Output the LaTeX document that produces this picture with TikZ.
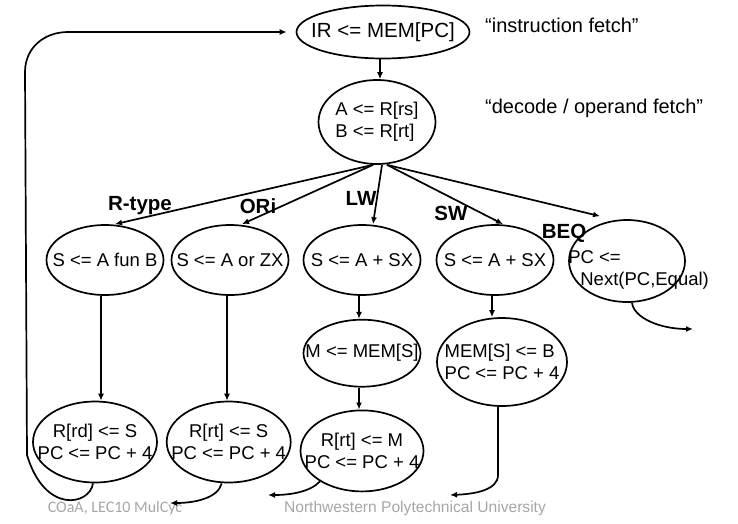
\documentclass[tikz,border=0pt]{standalone}
\usepackage{fontspec}
\setmainfont{Liberation Sans}
\newfontfamily\footfont{Carlito}
\usepackage{xcolor}
\definecolor{footgray}{HTML}{A6A6A6}
\usepackage{tikz}
\usetikzlibrary{arrows.meta,positioning,shapes.geometric}

\begin{document}
\begin{tikzpicture}[
  x=1pt,y=-1pt,
  st/.style={draw,ellipse,line width=1.7pt,inner sep=-40pt,align=center,
    minimum width=117pt,minimum height=70pt,font=\fontsize{18.5}{22}\selectfont},
  ar/.style={-{Latex[length=7pt,width=6pt]},line width=1.7pt},
  lab/.style={inner sep=0pt,font=\fontsize{20.5}{24}\selectfont\bfseries},
  note/.style={anchor=west,inner sep=0pt,font=\fontsize{20}{24}\selectfont},
  foot/.style={text=footgray,inner sep=0pt}
]
\useasboundingbox (0,0) rectangle (738,523);

\node[foot,font=\footfont\fontsize{16}{18}\selectfont] (fcourse) at (115,508) {COaA, LEC10 MulCyc};
\node[foot,font=\fontsize{15.6}{18}\selectfont] (fschool) at (415,508) {Northwestern Polytechnical University};

% fetch / decode
\node[st,minimum width=173pt,minimum height=53pt,font=\fontsize{20.5}{24}\selectfont] (ir) at (383,32) {IR <= MEM[PC]};
\node[st,minimum height=84pt,align=left] (dec) at (377,122) {A <= R[rs]\\B <= R[rt]};
\node[note] (nfetch) at (485,25) {“instruction fetch”};
\node[note] (ndecode) at (485,108) {“decode / operand fetch”};

% execute
\node[st] (rtype) at (105,260) {S <= A fun B};
\node[st] (ori) at (230,260) {S <= A or ZX};
\node[st] (lwa) at (362,260) {S <= A + SX};
\node[st] (swa) at (495,260) {S <= A + SX};
\node[st,minimum width=116pt,minimum height=82pt] (beq) at (627,261) {};
\node[anchor=west,inner sep=0pt,align=left,font=\fontsize{18.5}{22}\selectfont] (beqtxt)
  at ([yshift=-9pt]beq.west) {PC <=\\\hspace*{12pt}Next(PC,Equal)};

\node[lab] (lrt) at (140,206) {R-type};
\node[lab] (lori) at (258,206) {ORi};
\node[lab] (llw) at (361,198) {LW};
\node[lab] (lsw) at (451,213) {SW};
\node[lab] (lbeq) at (564,233) {BEQ};

% memory / write back
\node[st,below=23pt of lwa,minimum height=67pt] (lwm) {M <= MEM[S]};
\node[st,minimum width=130pt,minimum height=88pt,align=left] (swm) at (502,362) {MEM[S] <= B\\PC <= PC + 4};
\node[st,minimum width=124pt,minimum height=81pt] (rrd) at (95,442) {R[rd] <= S\\PC <= PC + 4};
\node[st,minimum width=124pt,minimum height=81pt,right=8pt of rrd] (rrt) {R[rt] <= S\\PC <= PC + 4};
\node[st,minimum width=123pt,minimum height=81pt,below=22pt of lwm] (rrm) {R[rt] <= M\\PC <= PC + 4};

\draw[ar] ([xshift=-3pt]ir.south) -- ([xshift=-3pt]ir.south |- dec.north);
\draw[ar] ([xshift=-4pt]dec.south) -- ([xshift=10pt]rtype.north);
\draw[ar] ([xshift=-4pt]dec.south) -- ([xshift=12pt]ori.north);
\draw[ar] ([xshift=5pt]dec.south) -- ([xshift=11pt]lwa.north);
\draw[ar] ([xshift=10pt]dec.south) -- ([xshift=8pt]swa.north);
\draw[ar] ([xshift=10pt]dec.south) -- ([xshift=-27pt,yshift=3pt]beq.north);

\draw[ar] ([xshift=-4pt]rtype.south) -- ([xshift=-4pt]rtype.south |- rrd.north);
\draw[ar] ([xshift=-3pt]ori.south) -- ([xshift=-3pt]ori.south |- rrt.north);
\draw[ar] ([xshift=-3pt]lwa.south) -- ([xshift=-3pt]lwa.south |- lwm.north);
\draw[ar] ([xshift=-3pt]lwm.south) -- ([xshift=-3pt]lwm.south |- rrm.north);
\draw[ar] ([xshift=-3pt]swa.south) -- ([xshift=-3pt]swa.south |- swm.north);

% back to fetch
\coordinate (rrtend) at (170,503);
\coordinate (rrmend) at (268,495);
\coordinate (swmend) at (450,495);
\coordinate (beqend) at (693,329);
\draw[ar] ([xshift=-2pt]rrd.south) .. controls (90,505) and (45,515) .. (27,455)
  -- (25,72) .. controls (25,48) and (44,32) .. (68,32) -- ([xshift=-9pt]ir.west);
\draw[ar] ([xshift=-7pt]rrt.south) .. controls (218,498) and (195,503) .. (rrtend);
\draw[ar] (rrm.216) .. controls (310,492) and (290,495) .. (rrmend);
\draw[ar] ([xshift=-4pt]swm.south) -- (498,475) .. controls (498,490) and (475,494) .. (swmend);
\draw[ar] ([xshift=5pt]beq.south) .. controls (634,318) and (660,329) .. (beqend);
\end{tikzpicture}
\end{document}
